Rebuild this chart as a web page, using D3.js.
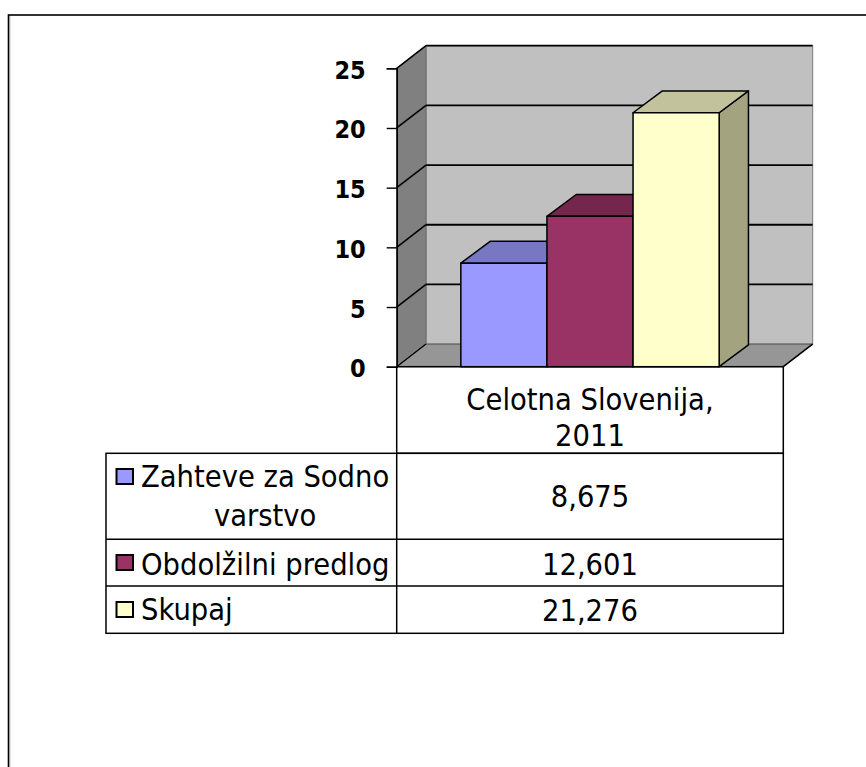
<!DOCTYPE html>
<html>
<head>
<meta charset="utf-8">
<script src="https://cdn.jsdelivr.net/npm/d3@7/dist/d3.min.js"></script>
<style>
  html, body { margin: 0; padding: 0; background: #ffffff; }
  svg { display: block; }
  .cond { font-family: "DejaVu Sans Condensed", "DejaVu Sans", sans-serif; font-stretch: condensed; }
</style>
</head>
<body>
<svg id="chart" width="866" height="767"></svg>
<script>
// ---------------- data ----------------
const categoryLines = ["Celotna Slovenija,", "2011"];
const category = categoryLines.join(" ");
const seriesNames = ["Zahteve za Sodno varstvo", "Obdolžilni predlog", "Skupaj"];
const seriesValues = [8.675, 12.601, 21.276];
const yTicks = [0, 5, 10, 15, 20, 25];
const frontColors = ["#9999ff", "#993366", "#ffffcc"];
const topColors = ["#7777c4", "#74264d", "#c2c29c"];
const sideColors = ["#7070b8", "#6e2449", "#a3a380"];

// ---------------- layout ----------------
const svg = d3.select("#chart");
const W = 866, H = 767;
const plot = { left: 396.7, right: 783.3, top: 68.3, bottom: 366.7 };
const depth = { dx: 29.3, dy: 22.6 };
const barDepth = { dx: 29.3, dy: 21.8 };

const loc = d3.formatLocale({ decimal: ",", thousands: ".", grouping: [3], currency: ["", "€"] });
const fmt = loc.format(".3f");

const y = d3.scaleLinear().domain([0, 25]).range([plot.bottom, plot.top]);
const x0 = d3.scaleBand().domain([category]).range([plot.left, plot.right]).padding(0);
const xs = d3.scaleBand().domain(seriesNames).range([0, x0.bandwidth()])
  .paddingInner(0).paddingOuter(0.745);

// outer frame
svg.append("rect").attr("x", 8.5).attr("y", 15).attr("width", W + 10).attr("height", H + 10)
  .attr("fill", "none").attr("stroke", "#000").attr("stroke-width", 1.6);
svg.append("line").attr("x1", 9.8).attr("x2", 9.8).attr("y1", 16).attr("y2", H)
  .attr("stroke", "#999").attr("stroke-width", 1);

const g = svg.append("g");
const pts = a => a.map(p => p.join(",")).join(" ");

// back wall
g.append("polygon")
  .attr("points", pts([[plot.left + depth.dx, y(25) - depth.dy], [plot.right + depth.dx, y(25) - depth.dy],
                       [plot.right + depth.dx, y(0) - depth.dy], [plot.left + depth.dx, y(0) - depth.dy]]))
  .attr("fill", "#c0c0c0").attr("stroke", "#8a8a8a").attr("stroke-width", 1.2);
// side wall
g.append("polygon")
  .attr("points", pts([[plot.left, y(25)], [plot.left + depth.dx, y(25) - depth.dy],
                       [plot.left + depth.dx, y(0) - depth.dy], [plot.left, y(0)]]))
  .attr("fill", "#808080").attr("stroke", "#6a6a6a").attr("stroke-width", 1);
// floor
g.append("polygon")
  .attr("points", pts([[plot.left, y(0)], [plot.left + depth.dx, y(0) - depth.dy],
                       [plot.right + depth.dx, y(0) - depth.dy], [plot.right, y(0)]]))
  .attr("fill", "#969696").attr("stroke", "#555").attr("stroke-width", 1);
g.append("line")
  .attr("x1", plot.right).attr("y1", y(0)).attr("x2", plot.right + depth.dx).attr("y2", y(0) - depth.dy)
  .attr("stroke", "#000").attr("stroke-width", 1.5);

// gridlines (back wall + side wall)
const grid = g.append("g");
yTicks.filter(t => t > 0).forEach(t => {
  grid.append("line")
    .attr("x1", plot.left + depth.dx).attr("x2", plot.right + depth.dx)
    .attr("y1", y(t) - depth.dy).attr("y2", y(t) - depth.dy)
    .attr("stroke", "#000").attr("stroke-width", 1.8);
  grid.append("line")
    .attr("x1", plot.left).attr("y1", y(t))
    .attr("x2", plot.left + depth.dx).attr("y2", y(t) - depth.dy)
    .attr("stroke", "#000").attr("stroke-width", 1.6);
});
grid.append("line")
  .attr("x1", plot.left).attr("y1", y(0))
  .attr("x2", plot.left + depth.dx).attr("y2", y(0) - depth.dy)
  .attr("stroke", "#000").attr("stroke-width", 1.2);

// bars
const bars = g.append("g");
seriesNames.forEach((s, i) => {
  const v = seriesValues[i];
  const xL = x0(category) + xs(s), xR = xL + xs.bandwidth();
  const yT = y(v), yB = y(0);
  const bg = bars.append("g").attr("stroke", "#000").attr("stroke-width", 1.5).attr("stroke-linejoin", "round");
  bg.append("polygon")
    .attr("points", pts([[xR, yT], [xR + barDepth.dx, yT - barDepth.dy], [xR + barDepth.dx, yB - barDepth.dy], [xR, yB]]))
    .attr("fill", sideColors[i]);
  bg.append("polygon")
    .attr("points", pts([[xL, yT], [xR, yT], [xR + barDepth.dx, yT - barDepth.dy], [xL + barDepth.dx, yT - barDepth.dy]]))
    .attr("fill", topColors[i]);
  bg.append("rect")
    .attr("x", xL).attr("y", yT).attr("width", xR - xL).attr("height", yB - yT)
    .attr("fill", frontColors[i]);
});

// y axis
const yAxis = d3.axisLeft(y).tickValues(yTicks).tickSize(10).tickPadding(21).tickFormat(d3.format("d"));
const ax = svg.append("g").attr("transform", `translate(${plot.left},0)`).call(yAxis);
ax.select(".domain").attr("stroke", "#000").attr("stroke-width", 1.6);
ax.selectAll(".tick line").attr("stroke", "#000").attr("stroke-width", 1.4);
ax.selectAll(".tick text")
  .attr("class", "cond")
  .attr("font-size", 25).attr("font-weight", "bold").attr("fill", "#000")
  .attr("dy", null).attr("y", 10);

// data table
const table = svg.append("g").attr("class", "cond");
const tLeft = 106, colX = plot.left, tRight = plot.right;
const rowY = [plot.bottom, 453.3, 539.3, 586, 633.3];
const lineAttrs = sel => sel.attr("stroke", "#000").attr("stroke-width", 1.5);
// header cell
table.append("rect").attr("x", colX).attr("y", rowY[0]).attr("width", tRight - colX).attr("height", rowY[1] - rowY[0])
  .attr("fill", "none").call(lineAttrs);
// body
table.append("rect").attr("x", tLeft).attr("y", rowY[1]).attr("width", tRight - tLeft).attr("height", rowY[4] - rowY[1])
  .attr("fill", "none").call(lineAttrs);
table.append("line").attr("x1", colX).attr("x2", colX).attr("y1", rowY[1]).attr("y2", rowY[4]).call(lineAttrs);
[rowY[2], rowY[3]].forEach(yy => table.append("line").attr("x1", tLeft).attr("x2", tRight).attr("y1", yy).attr("y2", yy).call(lineAttrs));

const fs = 30.5;
const colCenter = (colX + tRight) / 2;
const header = table.append("text").attr("text-anchor", "middle").attr("font-size", fs).attr("fill", "#000");
categoryLines.forEach((l, k) => header.append("tspan").attr("x", colCenter).attr("y", [409.5, 446][k]).text(l));

const valBase = [[507], [575], [621]];
const labBase = [[487, 525.5], [574.5], [620]];
const sqY = [469, 555, 602];
const textLeft = 141, textMax = colX - textLeft - 1;

seriesNames.forEach((s, i) => {
  table.append("text").attr("x", colCenter).attr("y", valBase[i][0]).attr("text-anchor", "middle")
    .attr("font-size", fs).attr("fill", "#000").text(fmt(seriesValues[i]));
  table.append("rect").attr("x", 116.5).attr("y", sqY[i]).attr("width", 16.5).attr("height", 15)
    .attr("fill", frontColors[i]).attr("stroke", "#000").attr("stroke-width", 2);
  // word-wrap label
  const t = table.append("text").attr("font-size", fs).attr("fill", "#000");
  const words = s.split(" ");
  const lines = [];
  let cur = [];
  const probe = t.append("tspan");
  const widths = [];
  words.forEach(w => {
    const test = cur.concat([w]).join(" ");
    probe.text(test);
    if (probe.node().getComputedTextLength() > textMax && cur.length) {
      lines.push(cur.join(" ")); cur = [w];
    } else cur.push(w);
  });
  lines.push(cur.join(" "));
  lines.forEach(l => { probe.text(l); widths.push(probe.node().getComputedTextLength()); });
  probe.remove();
  if (lines.length === 1) {
    t.append("tspan").attr("x", textLeft).attr("y", labBase[i][0]).text(lines[0]);
  } else {
    const cx = textLeft + d3.max(widths) / 2;
    t.attr("text-anchor", "middle");
    lines.forEach((l, k) => t.append("tspan").attr("x", cx).attr("y", labBase[i][k]).text(l));
  }
});
</script>
</body>
</html>
